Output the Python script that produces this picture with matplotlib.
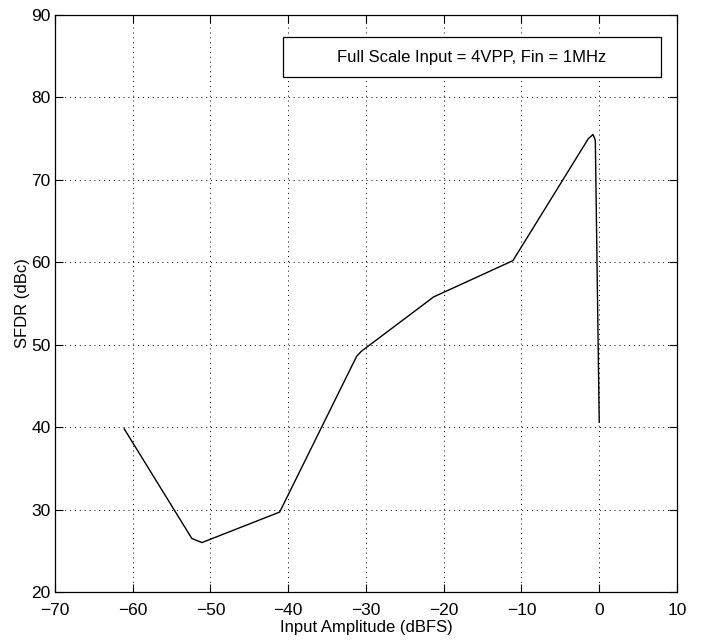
import matplotlib
matplotlib.use("Agg")
import matplotlib.pyplot as plt
from matplotlib.patches import Rectangle

# SFDR vs input amplitude
input_dbfs = [-61.1, -52.4, -51.1, -41.1, -31.2, -30.6, -21.3, -11.1, -1.4, -0.8, -0.5, 0.0]
sfdr_dbc = [39.8, 26.5, 26.0, 29.7, 48.6, 49.2, 55.8, 60.2, 75.0, 75.5, 74.8, 40.6]

x_ticks = [-70, -60, -50, -40, -30, -20, -10, 0, 10]
y_ticks = [20, 30, 40, 50, 60, 70, 80, 90]
note = "Full Scale Input = 4VPP, Fin = 1MHz"

plt.rcParams["font.family"] = ["Liberation Sans", "DejaVu Sans"]

fig = plt.figure(figsize=(7.04, 6.44), dpi=100)
ax = fig.add_axes([0.0781, 0.0807, 0.8835, 0.896])

ax.plot(input_dbfs, sfdr_dbc, color="black", linewidth=1.0)

ax.set_xlim(-70, 10)
ax.set_ylim(20, 90)
ax.set_xticks(x_ticks)
ax.set_yticks(y_ticks)
ax.tick_params(direction="in", top=True, right=True, length=6, width=0.8,
               labelsize=12.5)
ax.tick_params(axis="x", pad=8)
ax.tick_params(axis="y", pad=3)
ax.grid(True, linestyle=(0, (1, 4)), color="black", linewidth=0.7)
for s in ax.spines.values():
    s.set_linewidth(0.9)

ax.set_xlabel("Input Amplitude (dBFS)", fontsize=12, labelpad=1)
ax.set_ylabel("SFDR (dBc)", fontsize=12, labelpad=1)

# boxed annotation in upper right
ax.add_patch(Rectangle((0.366, 0.892), 0.608, 0.070, transform=ax.transAxes,
                       facecolor="white", edgecolor="black", linewidth=0.9, zorder=3))
ax.text(0.67, 0.927, note, transform=ax.transAxes, ha="center", va="center",
        fontsize=12, zorder=4)

fig.savefig("out.png", dpi=100)
